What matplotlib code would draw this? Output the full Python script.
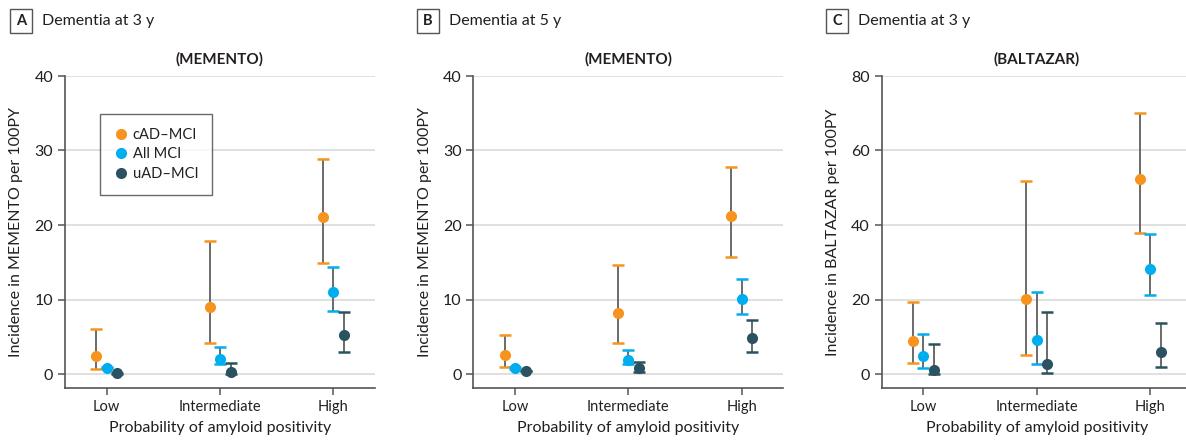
import numpy as np
import matplotlib.pyplot as plt
from matplotlib.patches import Rectangle

plt.rcParams['font.family'] = ['Lato', 'DejaVu Sans']

groups = ['Low', 'Intermediate', 'High']
series = ['cAD\u2013MCI', 'All MCI', 'uAD\u2013MCI']
colors = ['#F7941D', '#00AEEF', '#2B5260']

# panel A: MEMENTO, 3 y  (point, lower, upper) per series, per group
a_est = [[2.4, 9.0, 21.1], [0.85, 2.0, 11.0], [0.1, 0.3, 5.2]]
a_lo = [[0.7, 4.1, 14.9], [0.75, 1.4, 8.5], [0.05, 0.0, 3.0]]
a_hi = [[6.1, 17.8, 28.9], [0.95, 3.6, 14.4], [0.15, 1.5, 8.3]]

# panel B: MEMENTO, 5 y
b_est = [[2.55, 8.15, 21.2], [0.8, 1.9, 10.1], [0.4, 0.75, 4.8]]
b_lo = [[1.0, 4.1, 15.7], [0.7, 1.4, 8.0], [0.35, 0.3, 3.0]]
b_hi = [[5.2, 14.6, 27.8], [0.9, 3.2, 12.7], [0.45, 1.65, 7.2]]

# panel C: BALTAZAR, 3 y
c_est = [[8.9, 20.1, 52.4], [4.9, 9.1, 28.3], [1.1, 2.7, 6.0]]
c_lo = [[3.05, 5.2, 37.9], [1.7, 2.7, 21.1], [0.1, 0.3, 2.0]]
c_hi = [[19.4, 51.9, 70.0], [10.8, 22.0, 37.5], [8.1, 16.6, 13.8]]

panels = [
    ('A', 'Dementia at 3 y', '(MEMENTO)', 'Incidence in MEMENTO per 100PY', 40, a_est, a_lo, a_hi),
    ('B', 'Dementia at 5 y', '(MEMENTO)', 'Incidence in MEMENTO per 100PY', 40, b_est, b_lo, b_hi),
    ('C', 'Dementia at 3 y', '(BALTAZAR)', 'Incidence in BALTAZAR per 100PY', 80, c_est, c_lo, c_hi),
]

W, H = 1186, 440
fig = plt.figure(figsize=(W / 100, H / 100), dpi=100)

lefts = [65, 473.3, 881.7]
box_x = [10, 416.7, 826]
txt_col = '#231F20'
spine_col = '#555555'
offsets = [-0.092, 0.0, 0.095]
x = np.arange(len(groups))

for k, (letter, head, ttl, ylab, ymax, est, lo, hi) in enumerate(panels):
    ax = fig.add_axes([lefts[k] / W, 1 - 388 / H, 310 / W, 312 / H])
    pad = ymax * 14 / 298
    ax.set_ylim(-pad, ymax)
    ax.set_xlim(-0.368, 2.368)
    ax.set_yticks(np.linspace(0, ymax, 5))
    ax.yaxis.grid(True, color='#DDDDDD', linewidth=1.3)
    ax.set_axisbelow(True)
    for s in ['top', 'right']:
        ax.spines[s].set_visible(False)
    for s in ['left', 'bottom']:
        ax.spines[s].set_color(spine_col)
        ax.spines[s].set_linewidth(1.2)
    ax.tick_params(colors=spine_col, labelcolor=txt_col, labelsize=10.5, length=5, width=1.1)
    ax.tick_params(axis='y', labelsize=11.5)
    ax.set_xticks(x)
    ax.set_xticklabels(groups)
    ax.set_xlabel('Probability of amyloid positivity', fontsize=11.5, color=txt_col, labelpad=5)
    ax.set_ylabel(ylab, fontsize=11.5, color=txt_col, labelpad=8)
    ax.set_title(ttl, fontsize=11, fontweight='bold', color=txt_col, pad=9)

    for i in range(3):
        e = np.array(est[i])
        yerr = [e - np.array(lo[i]), np.array(hi[i]) - e]
        line, caps, bars = ax.errorbar(x + offsets[i], e, yerr=yerr, fmt='none',
                                       ecolor='#5F5F5F', elinewidth=1.3, capsize=4.6,
                                       capthick=1.8, zorder=2)
        for c in caps:
            c.set_markeredgecolor(colors[i])
        ax.plot(x + offsets[i], e, 'o', color=colors[i], ms=8, mec='none',
                zorder=3, label=series[i])

    if k == 0:
        leg = ax.legend(loc='upper left', bbox_to_anchor=(35 / 310, 1 - 38 / 312),
                        borderaxespad=0, fontsize=10.5, frameon=True, fancybox=False,
                        handletextpad=0.3, handlelength=1.0, borderpad=0.95,
                        labelspacing=0.38)
        leg.get_frame().set_edgecolor('#444444')
        leg.get_frame().set_linewidth(1.0)
        for t in leg.get_texts():
            t.set_color(txt_col)

    # panel letter box and header
    fig.patches.append(Rectangle((box_x[k] / W, 1 - 33 / H), 22 / W, 24 / H,
                                 transform=fig.transFigure, fill=False,
                                 edgecolor='#555555', linewidth=1.0))
    fig.text((box_x[k] + 11) / W, 1 - 21 / H, letter, ha='center', va='center',
             fontsize=10.5, fontweight='bold', color=txt_col)
    fig.text((box_x[k] + 32) / W, 1 - 21 / H, head, ha='left', va='center',
             fontsize=11.5, color=txt_col)

fig.savefig('out.png', dpi=100)
